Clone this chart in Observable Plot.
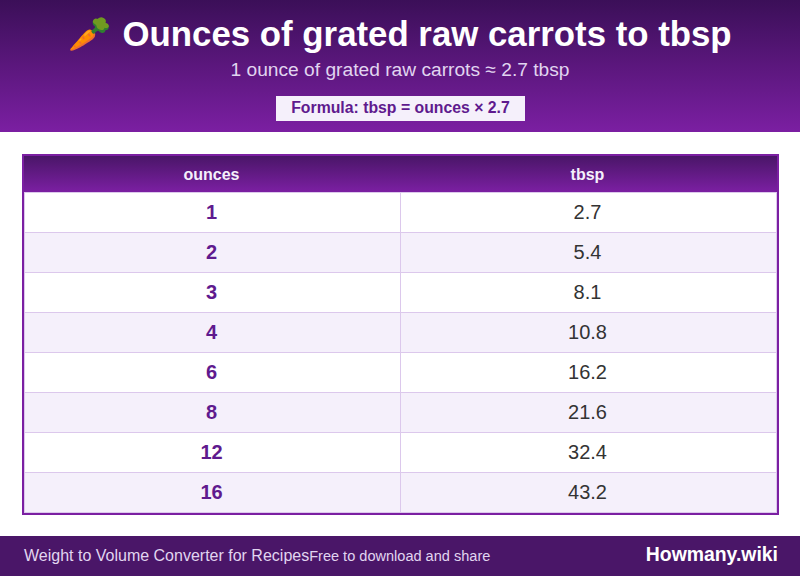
<!DOCTYPE html>
<html><head><meta charset="utf-8">
<script src="https://cdn.jsdelivr.net/npm/d3@7"></script>
<script src="https://cdn.jsdelivr.net/npm/@observablehq/plot@0.6"></script>
<style>
html,body{margin:0;padding:0;background:#fff;font-family:"Liberation Sans",Arial,sans-serif;}
#page{width:800px;height:576px;overflow:hidden;position:relative;}
#head{height:132px;background:linear-gradient(180deg,#3b0f58 0%,#7b1fa2 100%);text-align:center;box-sizing:border-box;position:relative;}
#title{position:absolute;left:0;right:0;top:13px;font-size:34.8px;font-weight:700;color:#fff;line-height:42px;white-space:nowrap;}
#title span{margin-right:1.5px;}
#sub{position:absolute;left:0;right:0;top:59px;font-size:19.2px;color:#e1d5f0;line-height:22px;}
#formula{position:absolute;left:276px;width:249px;top:96px;height:25px;line-height:24px;background:#f5f0fb;color:#5f1a8e;font-size:15.8px;font-weight:700;}
#chart{height:404px;}
#chart svg{display:block;}
#foot{height:40px;background:#4a1668;display:flex;align-items:center;padding:0 22px 0 24px;white-space:nowrap;color:#e1d5f0;}
#foot .a{font-size:16px;}
#foot .b{font-size:14.55px;margin-left:0;}
#foot .c{font-size:19.4px;font-weight:700;color:#fff;margin-left:auto;margin-top:-4px;}
</style></head><body>
<div id="page">
<div id="head">
<div id="title"><span>🥕</span> Ounces of grated raw carrots to tbsp</div>
<div id="sub">1 ounce of grated raw carrots ≈ 2.7 tbsp</div>
<div id="formula">Formula: tbsp = ounces × 2.7</div>
</div>
<div id="chart"></div>
<div id="foot"><span class="a">Weight to Volume Converter for Recipes</span><span class="b">Free to download and share</span><span class="c">Howmany.wiki</span></div>
</div>
<script>
const columns = ["ounces", "tbsp"];
const ounces = ["1", "2", "3", "4", "6", "8", "12", "16"];
const tbsp = ["2.7", "5.4", "8.1", "10.8", "16.2", "21.6", "32.4", "43.2"];

const rows = ounces.map((o, i) => ({i, ounces: o, tbsp: tbsp[i]}));
const heads = columns.map((c, j) => ({j, label: c}));
const headerHeight = -0.9; // header row height, in row units

const defs = () => {
  const s = d3.create("svg:defs");
  const g = s.append("linearGradient").attr("id", "hdr").attr("x1", 0).attr("x2", 0).attr("y1", 0).attr("y2", 1);
  g.append("stop").attr("offset", "0%").attr("stop-color", "#4a1668");
  g.append("stop").attr("offset", "100%").attr("stop-color", "#7b1fa2");
  return s.node();
};

const line = "#dcc8ec";
const chart = Plot.plot({
  width: 800,
  height: 404,
  marginLeft: 24, marginRight: 24, marginTop: 24, marginBottom: 23,
  x: {type: "linear", domain: [0, 2], axis: null},
  y: {type: "linear", domain: [headerHeight, 8.025], reverse: true, axis: null},
  marks: [
    defs,
    Plot.rect([0], {x1: 0, x2: 2, y1: headerHeight, y2: 0, insetRight: -1, fill: "url(#hdr)"}),
    Plot.rect(rows, {x1: 0, x2: 2, y1: "i", y2: d => d.i + 1, fill: d => d.i % 2 ? "#f5f0fb" : "#ffffff"}),
    Plot.ruleY(d3.range(0, 9), {x1: 0, x2: 2, insetRight: -1, stroke: line, strokeWidth: 1}),
    Plot.ruleX([0, 1, 2], {y1: 0, y2: 8, stroke: line, strokeWidth: 1}),
    Plot.frame({stroke: "#7b1fa2", strokeWidth: 2, insetLeft: -1.5, insetRight: -1.5, insetTop: -1.5, insetBottom: -0.5}),
    Plot.text(heads, {x: d => d.j + 0.5, y: headerHeight / 2, dx: -1, text: "label", fill: "#f5f0fb", fontSize: 16, fontWeight: 700, fontFamily: "Liberation Sans"}),
    Plot.text(rows, {x: 0.5, y: d => d.i + 0.5, dx: -1, text: "ounces", fill: "#5f1a8e", fontSize: 20, fontWeight: 700, fontFamily: "Liberation Sans"}),
    Plot.text(rows, {x: 1.5, y: d => d.i + 0.5, dx: -1, text: "tbsp", fill: "#333333", fontSize: 20, fontFamily: "Liberation Sans"})
  ]
});
document.getElementById("chart").append(chart);
</script>
</body></html>
